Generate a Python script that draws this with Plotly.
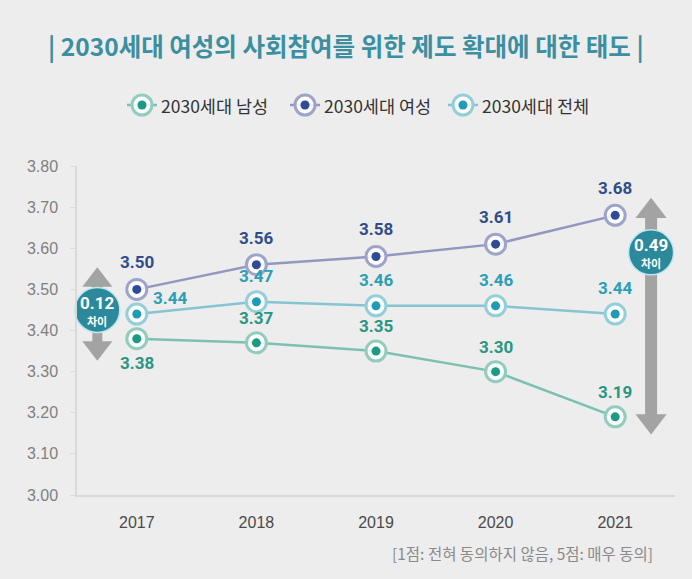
import plotly.graph_objects as go

years = ["2017", "2018", "2019", "2020", "2021"]
men = [3.38, 3.37, 3.35, 3.30, 3.19]
women = [3.50, 3.56, 3.58, 3.61, 3.68]
total = [3.44, 3.47, 3.46, 3.46, 3.44]
series_names = ["2030세대 남성", "2030세대 여성", "2030세대 전체"]
y_ticks = [3.00, 3.10, 3.20, 3.30, 3.40, 3.50, 3.60, 3.70, 3.80]

W, H = 692, 579
BG = "#ededed"
xs = list(range(len(years)))

styles = {
    "men":   dict(line="#7cc0b1", ring="#92ccbf", dot="#1d9a84", label="#2a9683"),
    "women": dict(line="#9197c0", ring="#9ea3c9", dot="#2f4a96", label="#2f4d8a"),
    "total": dict(line="#86c4d2", ring="#94cfd9", dot="#1f9bb6", label="#2a9fb5"),
}
data = {"men": men, "women": women, "total": total}

fig = go.Figure()

for key in ["men", "total", "women"]:
    s = styles[key]
    fig.add_trace(go.Scatter(x=xs, y=data[key], mode="lines",
                             line=dict(color=s["line"], width=2.5),
                             showlegend=False, hoverinfo="skip"))
for key in ["men", "total", "women"]:
    s = styles[key]
    fig.add_trace(go.Scatter(x=xs, y=data[key], mode="markers",
                             marker=dict(size=20, color="rgba(255,255,255,0.85)",
                                         line=dict(color=s["ring"], width=3)),
                             showlegend=False, hoverinfo="skip", cliponaxis=False))
    fig.add_trace(go.Scatter(x=xs, y=data[key], mode="markers",
                             marker=dict(size=9, color=s["dot"]),
                             showlegend=False, hoverinfo="skip", cliponaxis=False))

# value labels
lab_font = "Roboto"
for i, v in enumerate(women):
    fig.add_annotation(x=xs[i], y=v, text=f"<b>{v:.2f}</b>", showarrow=False, yshift=27,
                       font=dict(family=lab_font, size=17, color=styles["women"]["label"]))
for i, v in enumerate(men):
    shift = -24 if i == 0 else 25
    fig.add_annotation(x=xs[i], y=v, text=f"<b>{v:.2f}</b>", showarrow=False, yshift=shift,
                       font=dict(family=lab_font, size=17, color=styles["men"]["label"]))
for i, v in enumerate(total):
    if i == 0:
        fig.add_annotation(x=xs[i], y=v, text=f"<b>{v:.2f}</b>", showarrow=False, xshift=33, yshift=16,
                           font=dict(family=lab_font, size=17, color=styles["total"]["label"]))
    else:
        fig.add_annotation(x=xs[i], y=v, text=f"<b>{v:.2f}</b>", showarrow=False, yshift=26,
                           font=dict(family=lab_font, size=17, color=styles["total"]["label"]))

# difference arrows and badges
ARROW = "#a3a3a3"
BADGE = "#2b899b"
gaps = [(0, -0.33, 3.45, 10, 26, 0.042), (4, 4.3, 3.59, 12, 27, 0.03)]
for idx, ax_x, badge_y, shaft_w, head, pad in gaps:
    vals = [men[idx], women[idx], total[idx]]
    top = max(vals) + pad
    bot = min(vals) - pad
    fig.add_trace(go.Scatter(x=[ax_x, ax_x], y=[top - 0.02, bot + 0.02], mode="lines",
                             line=dict(color=ARROW, width=shaft_w),
                             showlegend=False, hoverinfo="skip", cliponaxis=False))
    fig.add_trace(go.Scatter(x=[ax_x], y=[top - 0.02], mode="markers",
                             marker=dict(symbol="triangle-up", size=head, color=ARROW),
                             showlegend=False, hoverinfo="skip", cliponaxis=False))
    fig.add_trace(go.Scatter(x=[ax_x], y=[bot + 0.02], mode="markers",
                             marker=dict(symbol="triangle-down", size=head, color=ARROW),
                             showlegend=False, hoverinfo="skip", cliponaxis=False))
    diff = max(vals) - min(vals)
    fig.add_trace(go.Scatter(x=[ax_x], y=[badge_y], mode="markers",
                             marker=dict(size=45, color=BADGE, line=dict(color="#bfe6ee", width=1.5)),
                             showlegend=False, hoverinfo="skip", cliponaxis=False))
    fig.add_annotation(x=ax_x, y=badge_y, text=f"<b>{diff:.2f}</b>", showarrow=False, yshift=7,
                       font=dict(family="Roboto", size=17, color="white"))
    fig.add_annotation(x=ax_x, y=badge_y, text="<b>차이</b>", showarrow=False, yshift=-11,
                       font=dict(family="Noto Sans CJK KR", size=11, color="white"))

# manual legend on pixel overlay axes
leg_x = [142, 305, 463]
leg_y = 105
for (key, name, lx) in zip(["men", "women", "total"], series_names, leg_x):
    s = styles[key]
    fig.add_trace(go.Scatter(x=[lx - 15, lx + 15], y=[leg_y, leg_y], mode="lines",
                             line=dict(color=s["line"], width=2.5), xaxis="x2", yaxis="y2",
                             showlegend=False, hoverinfo="skip"))
    fig.add_trace(go.Scatter(x=[lx], y=[leg_y], mode="markers",
                             marker=dict(size=20, color="rgba(255,255,255,0.85)",
                                         line=dict(color=s["ring"], width=3)),
                             xaxis="x2", yaxis="y2", showlegend=False, hoverinfo="skip"))
    fig.add_trace(go.Scatter(x=[lx], y=[leg_y], mode="markers",
                             marker=dict(size=9, color=s["dot"]),
                             xaxis="x2", yaxis="y2", showlegend=False, hoverinfo="skip"))
    fig.add_annotation(x=lx + 17, y=leg_y, xref="x2", yref="y2", text=name, showarrow=False,
                       xanchor="left", yanchor="middle",
                       font=dict(family="Noto Sans CJK KR", size=17.5, color="#333333"))

# title and footnote
fig.add_annotation(x=0.5, y=1 - 45 / H, xref="paper", yref="paper", yanchor="middle",
                   text="<b>| 2030세대 여성의 사회참여를 위한 제도 확대에 대한 태도 |</b>",
                   showarrow=False, font=dict(family="Noto Sans CJK KR", size=24.5, color="#3b8fa1"))
fig.add_annotation(x=655 / W, y=1 - 553 / H, xref="paper", yref="paper", xanchor="right",
                   yanchor="middle",
                   text="[1점: 전혀 동의하지 않음, 5점: 매우 동의]", showarrow=False,
                   font=dict(family="Noto Sans CJK KR", size=15.5, color="#8a8a8a"))

fig.update_layout(
    width=W, height=H,
    margin=dict(l=0, r=0, t=0, b=0),
    paper_bgcolor=BG, plot_bgcolor="rgba(0,0,0,0)",
    showlegend=False,
    xaxis=dict(domain=[77 / W, 675 / W], range=[-0.5, 4.5], tickvals=xs, ticktext=years,
               showgrid=False, zeroline=False, showline=True, linecolor="#d9d9d9", linewidth=1.5,
               ticks="", tickfont=dict(family="Liberation Sans", size=16, color="#4a4a4a"),
               ticklabelstandoff=12, automargin=False, fixedrange=True),
    yaxis=dict(domain=[(H - 495) / H, (H - 166) / H], range=[3.0, 3.8], tickvals=y_ticks,
               ticktext=[f"{t:.2f}" for t in y_ticks],
               showgrid=False, zeroline=False, showline=True, linecolor="#d9d9d9", linewidth=1.5,
               ticks="outside", ticklen=5, tickcolor="#dcdcdc",
               tickfont=dict(family="Liberation Sans", size=16, color="#808080"), ticklabelstandoff=9,
               automargin=False, fixedrange=True),
    xaxis2=dict(domain=[0, 1], range=[0, W], anchor="y2", visible=False, fixedrange=True),
    yaxis2=dict(domain=[0, 1], range=[H, 0], anchor="x2", visible=False, fixedrange=True),
)

fig.write_html("out.html", config={"displayModeBar": False},
               post_script="document.body.style.margin='0';")
